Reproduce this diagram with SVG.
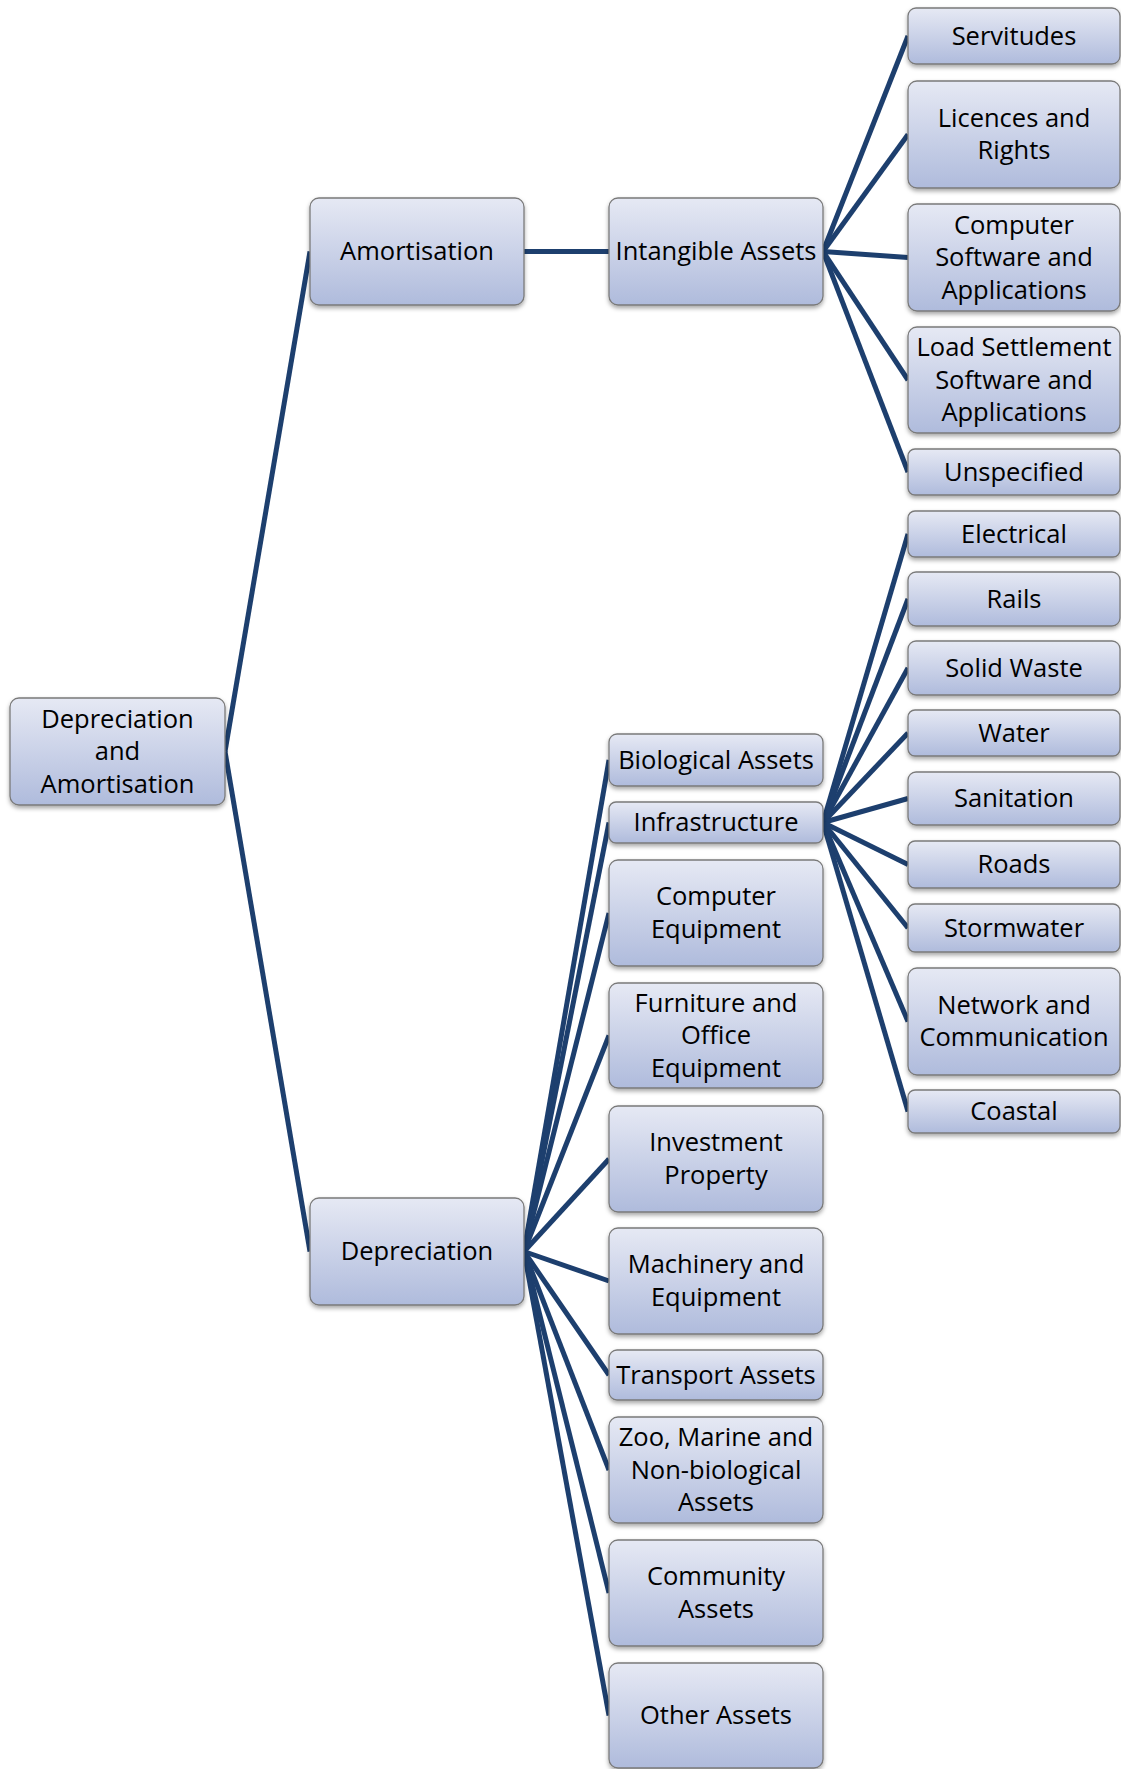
<svg xmlns="http://www.w3.org/2000/svg" width="1121" height="1769" viewBox="0 0 1121 1769">
<defs>
<linearGradient id="g" x1="0" y1="0" x2="0" y2="1">
<stop offset="0" stop-color="#e6e9f4"/>
<stop offset="1" stop-color="#afbbdc"/>
</linearGradient>
<filter id="sh" x="-10%" y="-20%" width="120%" height="150%">
<feDropShadow dx="0" dy="2.5" stdDeviation="2" flood-color="#000" flood-opacity="0.35"/>
</filter>
</defs>
<style>
.n rect{fill:url(#g);stroke:#7a7a7a;stroke-width:1.3;filter:url(#sh)}
.n text{font-family:"Open Sans","Noto Sans","DejaVu Sans",sans-serif;font-size:25.5px;fill:#000;text-anchor:middle}
#connectors line{stroke:#1d3f6e;stroke-width:5;stroke-linecap:butt}
</style>
<rect width="1121" height="1769" fill="#fff"/>
<g id="connectors">
<line x1="225" y1="751.5" x2="310" y2="251.5"/>
<line x1="225" y1="751.5" x2="310" y2="1251.5"/>
<line x1="524" y1="251.5" x2="609" y2="251.5"/>
<line x1="823" y1="251.5" x2="908" y2="36"/>
<line x1="823" y1="251.5" x2="908" y2="134.5"/>
<line x1="823" y1="251.5" x2="908" y2="257.5"/>
<line x1="823" y1="251.5" x2="908" y2="380"/>
<line x1="823" y1="251.5" x2="908" y2="472"/>
<line x1="524" y1="1251.5" x2="609" y2="760"/>
<line x1="524" y1="1251.5" x2="609" y2="822.5"/>
<line x1="524" y1="1251.5" x2="609" y2="913"/>
<line x1="524" y1="1251.5" x2="609" y2="1035.5"/>
<line x1="524" y1="1251.5" x2="609" y2="1159"/>
<line x1="524" y1="1251.5" x2="609" y2="1281"/>
<line x1="524" y1="1251.5" x2="609" y2="1375"/>
<line x1="524" y1="1251.5" x2="609" y2="1470"/>
<line x1="524" y1="1251.5" x2="609" y2="1593"/>
<line x1="524" y1="1251.5" x2="609" y2="1715.5"/>
<line x1="823" y1="822.5" x2="908" y2="534"/>
<line x1="823" y1="822.5" x2="908" y2="599"/>
<line x1="823" y1="822.5" x2="908" y2="668"/>
<line x1="823" y1="822.5" x2="908" y2="733"/>
<line x1="823" y1="822.5" x2="908" y2="798.5"/>
<line x1="823" y1="822.5" x2="908" y2="864.5"/>
<line x1="823" y1="822.5" x2="908" y2="928"/>
<line x1="823" y1="822.5" x2="908" y2="1021.5"/>
<line x1="823" y1="822.5" x2="908" y2="1111.5"/>
</g>
<g id="root" class="n"><rect x="10" y="698" width="215" height="107" rx="9"/><text x="117.5" y="727.5">Depreciation</text><text x="117.5" y="760">and</text><text x="117.5" y="792.5">Amortisation</text></g>
<g id="amortisation" class="n"><rect x="310" y="198" width="214" height="107" rx="9"/><text x="417" y="260">Amortisation</text></g>
<g id="depreciation" class="n"><rect x="310" y="1198" width="214" height="107" rx="9"/><text x="417" y="1260">Depreciation</text></g>
<g id="intangible" class="n"><rect x="609" y="198" width="214" height="107" rx="9"/><text x="716" y="260">Intangible Assets</text></g>
<g id="servitudes" class="n"><rect x="908" y="8" width="212" height="56" rx="8"/><text x="1014" y="44.5">Servitudes</text></g>
<g id="licences" class="n"><rect x="908" y="81" width="212" height="107" rx="9"/><text x="1014" y="126.75">Licences and</text><text x="1014" y="159.25">Rights</text></g>
<g id="compsoftware" class="n"><rect x="908" y="204" width="212" height="107" rx="9"/><text x="1014" y="233.5">Computer</text><text x="1014" y="266">Software and</text><text x="1014" y="298.5">Applications</text></g>
<g id="loadsettlement" class="n"><rect x="908" y="327" width="212" height="106" rx="9"/><text x="1014" y="356">Load Settlement</text><text x="1014" y="388.5">Software and</text><text x="1014" y="421">Applications</text></g>
<g id="unspecified" class="n"><rect x="908" y="449" width="212" height="46" rx="7"/><text x="1014" y="480.5">Unspecified</text></g>
<g id="electrical" class="n"><rect x="908" y="511" width="212" height="46" rx="7"/><text x="1014" y="542.5">Electrical</text></g>
<g id="rails" class="n"><rect x="908" y="572" width="212" height="54" rx="8"/><text x="1014" y="607.5">Rails</text></g>
<g id="solidwaste" class="n"><rect x="908" y="641" width="212" height="54" rx="8"/><text x="1014" y="676.5">Solid Waste</text></g>
<g id="water" class="n"><rect x="908" y="710" width="212" height="46" rx="7"/><text x="1014" y="741.5">Water</text></g>
<g id="sanitation" class="n"><rect x="908" y="772" width="212" height="53" rx="8"/><text x="1014" y="807">Sanitation</text></g>
<g id="roads" class="n"><rect x="908" y="841" width="212" height="47" rx="7"/><text x="1014" y="873">Roads</text></g>
<g id="stormwater" class="n"><rect x="908" y="904" width="212" height="48" rx="7"/><text x="1014" y="936.5">Stormwater</text></g>
<g id="network" class="n"><rect x="908" y="968" width="212" height="107" rx="9"/><text x="1014" y="1013.75">Network and</text><text x="1014" y="1046.25">Communication</text></g>
<g id="coastal" class="n"><rect x="908" y="1090" width="212" height="43" rx="7"/><text x="1014" y="1120">Coastal</text></g>
<g id="biological" class="n"><rect x="609" y="734" width="214" height="52" rx="8"/><text x="716" y="768.5">Biological Assets</text></g>
<g id="infrastructure" class="n"><rect x="609" y="802" width="214" height="41" rx="7"/><text x="716" y="831">Infrastructure</text></g>
<g id="compequipment" class="n"><rect x="609" y="860" width="214" height="106" rx="9"/><text x="716" y="905.25">Computer</text><text x="716" y="937.75">Equipment</text></g>
<g id="furniture" class="n"><rect x="609" y="983" width="214" height="105" rx="9"/><text x="716" y="1011.5">Furniture and</text><text x="716" y="1044">Office</text><text x="716" y="1076.5">Equipment</text></g>
<g id="investment" class="n"><rect x="609" y="1106" width="214" height="106" rx="9"/><text x="716" y="1151.25">Investment</text><text x="716" y="1183.75">Property</text></g>
<g id="machinery" class="n"><rect x="609" y="1228" width="214" height="106" rx="9"/><text x="716" y="1273.25">Machinery and</text><text x="716" y="1305.75">Equipment</text></g>
<g id="transport" class="n"><rect x="609" y="1350" width="214" height="50" rx="8"/><text x="716" y="1383.5">Transport Assets</text></g>
<g id="zoo" class="n"><rect x="609" y="1417" width="214" height="106" rx="9"/><text x="716" y="1446">Zoo, Marine and</text><text x="716" y="1478.5">Non-biological</text><text x="716" y="1511">Assets</text></g>
<g id="community" class="n"><rect x="609" y="1540" width="214" height="106" rx="9"/><text x="716" y="1585.25">Community</text><text x="716" y="1617.75">Assets</text></g>
<g id="other" class="n"><rect x="609" y="1663" width="214" height="105" rx="9"/><text x="716" y="1724">Other Assets</text></g>
</svg>
